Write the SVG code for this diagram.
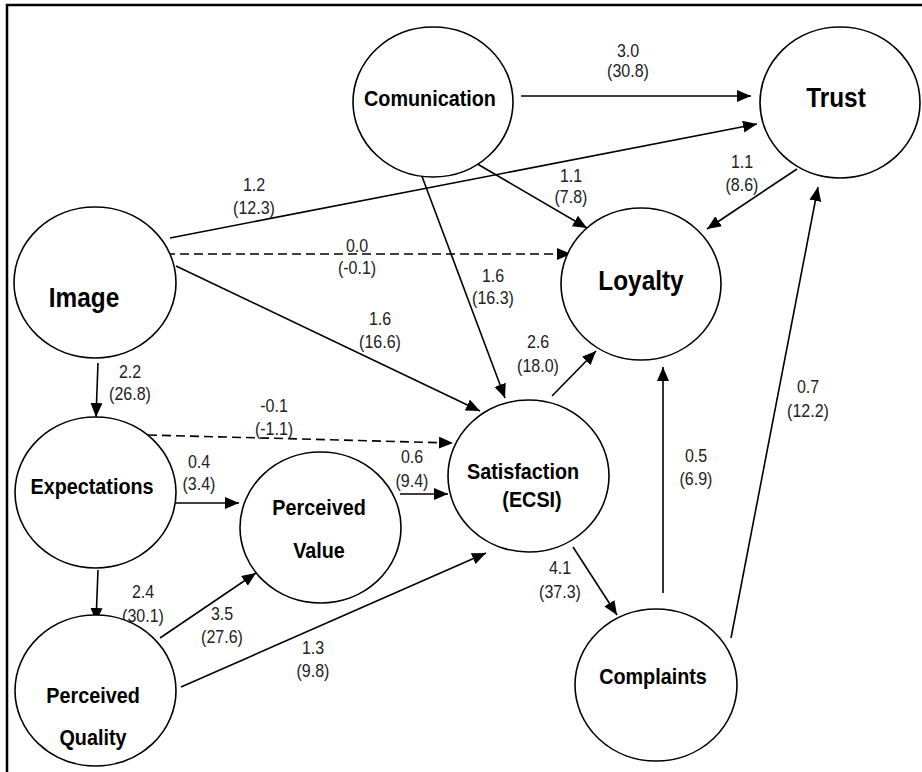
<svg xmlns="http://www.w3.org/2000/svg" width="922" height="772" viewBox="0 0 922 772">
<defs>
<marker id="arr" markerUnits="userSpaceOnUse" markerWidth="15" markerHeight="13" refX="14" refY="6" orient="auto">
<path d="M0,0 L14,6 L0,12 z" fill="#000"/>
</marker>
<style>
.node ellipse{fill:#fff;stroke:#000;stroke-width:1.6}
.nl{font-family:"Liberation Sans",Arial,sans-serif;font-weight:bold;font-size:22px;text-anchor:middle;fill:#000}
.big{font-family:"Liberation Sans",Arial,sans-serif;font-weight:bold;font-size:28px;text-anchor:middle;fill:#000}
.lbl{font-family:"Liberation Sans",Arial,sans-serif;font-size:18px;text-anchor:middle;fill:#222}
.c line{stroke:#000;stroke-width:1.6;marker-end:url(#arr)}
.c line.d{stroke-dasharray:9 5}
</style>
</defs>
<rect width="922" height="772" fill="#fff"/>
<path d="M7,772 V5 H922" fill="none" stroke="#000" stroke-width="2.5"/>

<g id="connectors" class="c">
<line x1="521" y1="96" x2="751" y2="96"/>
<line x1="170" y1="238" x2="757" y2="124"/>
<line class="d" x1="166" y1="254" x2="571" y2="254"/>
<line x1="176" y1="266" x2="480" y2="411"/>
<line x1="474" y1="162" x2="587" y2="228"/>
<line x1="417" y1="163" x2="505" y2="398"/>
<line x1="797" y1="169" x2="707" y2="229"/>
<line x1="552" y1="396" x2="596" y2="351"/>
<line x1="98" y1="363" x2="96" y2="417"/>
<line class="d" x1="148" y1="435" x2="453" y2="443"/>
<line x1="176" y1="503" x2="239" y2="503"/>
<line x1="400" y1="494" x2="448" y2="494"/>
<line x1="98" y1="570" x2="96" y2="622"/>
<line x1="160" y1="638" x2="256" y2="573"/>
<line x1="181" y1="687" x2="486" y2="553"/>
<line x1="573" y1="547" x2="617" y2="615"/>
<line x1="663" y1="593" x2="663" y2="367"/>
<line x1="731" y1="638" x2="818" y2="187"/>
</g>

<g id="labels">
<text class="lbl" transform="translate(628,57) scale(0.89,1)"><tspan x="0" y="0">3.0</tspan><tspan x="0" y="20">(30.8)</tspan></text>
<text class="lbl" transform="translate(254,191) scale(0.89,1)"><tspan x="0" y="0">1.2</tspan><tspan x="0" y="23">(12.3)</tspan></text>
<text class="lbl" transform="translate(357,252) scale(0.89,1)"><tspan x="0" y="0">0.0</tspan><tspan x="0" y="22">(-0.1)</tspan></text>
<text class="lbl" transform="translate(380,325) scale(0.89,1)"><tspan x="0" y="0">1.6</tspan><tspan x="0" y="23">(16.6)</tspan></text>
<text class="lbl" transform="translate(571,182) scale(0.89,1)"><tspan x="0" y="0">1.1</tspan><tspan x="0" y="21">(7.8)</tspan></text>
<text class="lbl" transform="translate(493,282) scale(0.89,1)"><tspan x="0" y="0">1.6</tspan><tspan x="0" y="22">(16.3)</tspan></text>
<text class="lbl" transform="translate(742,168) scale(0.89,1)"><tspan x="0" y="0">1.1</tspan><tspan x="0" y="23">(8.6)</tspan></text>
<text class="lbl" transform="translate(538,348) scale(0.89,1)"><tspan x="0" y="0">2.6</tspan><tspan x="0" y="24">(18.0)</tspan></text>
<text class="lbl" transform="translate(130,378) scale(0.89,1)"><tspan x="0" y="0">2.2</tspan><tspan x="0" y="22">(26.8)</tspan></text>
<text class="lbl" transform="translate(274,412) scale(0.89,1)"><tspan x="0" y="0">-0.1</tspan><tspan x="0" y="23">(-1.1)</tspan></text>
<text class="lbl" transform="translate(199,468) scale(0.89,1)"><tspan x="0" y="0">0.4</tspan><tspan x="0" y="22">(3.4)</tspan></text>
<text class="lbl" transform="translate(412,463) scale(0.89,1)"><tspan x="0" y="0">0.6</tspan><tspan x="0" y="24">(9.4)</tspan></text>
<text class="lbl" transform="translate(143,598) scale(0.89,1)"><tspan x="0" y="0">2.4</tspan><tspan x="0" y="24">(30.1)</tspan></text>
<text class="lbl" transform="translate(222,620) scale(0.89,1)"><tspan x="0" y="0">3.5</tspan><tspan x="0" y="23">(27.6)</tspan></text>
<text class="lbl" transform="translate(313,654) scale(0.89,1)"><tspan x="0" y="0">1.3</tspan><tspan x="0" y="23">(9.8)</tspan></text>
<text class="lbl" transform="translate(560,574) scale(0.89,1)"><tspan x="0" y="0">4.1</tspan><tspan x="0" y="24">(37.3)</tspan></text>
<text class="lbl" transform="translate(696,462) scale(0.89,1)"><tspan x="0" y="0">0.5</tspan><tspan x="0" y="23">(6.9)</tspan></text>
<text class="lbl" transform="translate(808,393) scale(0.89,1)"><tspan x="0" y="0">0.7</tspan><tspan x="0" y="24">(12.2)</tspan></text>
</g>

<g id="comunication" class="node">
<ellipse cx="433" cy="102" rx="80" ry="75"/>
<text class="nl" transform="translate(430,106) scale(0.9,1)">Comunication</text>
</g>
<g id="trust" class="node">
<ellipse cx="840" cy="102.5" rx="80" ry="75.5"/>
<text class="big" transform="translate(836,107) scale(0.87,1)">Trust</text>
</g>
<g id="image" class="node">
<ellipse cx="95" cy="282.5" rx="81" ry="75.5"/>
<text class="big" transform="translate(84,307) scale(0.87,1)">Image</text>
</g>
<g id="loyalty" class="node">
<ellipse cx="641" cy="284" rx="80" ry="76"/>
<text class="big" transform="translate(641,290) scale(0.87,1)">Loyalty</text>
</g>
<g id="expectations" class="node">
<ellipse cx="95.5" cy="492.5" rx="80.5" ry="75.5"/>
<text class="nl" transform="translate(92,494) scale(0.9,1)">Expectations</text>
</g>
<g id="perceived-value" class="node">
<ellipse cx="320.5" cy="527.5" rx="80.5" ry="75.5"/>
<text class="nl" transform="translate(319,515) scale(0.9,1)">Perceived</text>
<text class="nl" transform="translate(319,558) scale(0.9,1)">Value</text>
</g>
<g id="perceived-quality" class="node">
<ellipse cx="95.5" cy="690.5" rx="80.5" ry="75.5"/>
<text class="nl" transform="translate(93,703) scale(0.9,1)">Perceived</text>
<text class="nl" transform="translate(93,745) scale(0.9,1)">Quality</text>
</g>
<g id="satisfaction" class="node">
<ellipse cx="528.5" cy="476" rx="80.5" ry="76"/>
<text class="nl" transform="translate(523,479) scale(0.9,1)">Satisfaction</text>
<text class="nl" transform="translate(532,507) scale(0.9,1)">(ECSI)</text>
</g>
<g id="complaints" class="node">
<ellipse cx="656" cy="685" rx="81" ry="76"/>
<text class="nl" transform="translate(653,684) scale(0.9,1)">Complaints</text>
</g>
</svg>
